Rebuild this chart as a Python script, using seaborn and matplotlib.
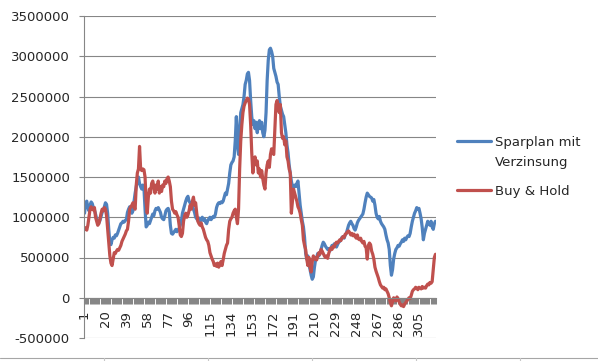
import numpy as np
import pandas as pd
import seaborn as sns
import matplotlib.pyplot as plt
from matplotlib.lines import Line2D
from matplotlib.ticker import MultipleLocator, FuncFormatter

# values in thousands, one per period (1..320)
sparplan = [
    1050, 1180, 1200, 1120, 1080, 1150, 1190, 1170, 1120, 1090,
    1040, 980, 950, 930, 960, 1010, 1060, 1090, 1130, 1180,
    1160, 1050, 850, 690, 660, 720, 750, 740, 780, 770,
    800, 840, 880, 920, 930, 950, 940, 960, 970, 1060,
    1100, 1130, 1120, 1050, 1080, 1200, 1300, 1380, 1450, 1500,
    1420, 1380, 1350, 1400, 1360, 1100, 880, 900, 940, 920,
    960, 1000, 1040, 1020, 1080, 1110, 1100, 1120, 1090, 1060,
    1000, 980, 970, 1020, 1080, 1100, 1110, 1070, 900, 800,
    790, 810, 830, 850, 820, 840, 860, 900, 950, 1050,
    1100, 1150, 1200, 1240, 1260, 1200, 1180, 1130, 1150, 1100,
    1060, 1000, 980, 960, 990, 950, 970, 1000, 960, 980,
    940, 920, 960, 980, 1000, 970, 990, 1010, 1000, 1040,
    1120, 1160, 1180, 1170, 1190, 1180, 1200, 1250, 1300, 1280,
    1350, 1420, 1550, 1650, 1680, 1700, 1750, 1950, 2250, 1900,
    1780, 2100, 2300, 2350, 2400, 2500, 2650, 2700, 2780, 2800,
    2700, 2450, 2250, 2150, 2200, 2100, 2180, 2050, 2150, 2200,
    2100, 2180, 2050, 2000, 2080, 2300, 2700, 2950, 3080, 3100,
    3060, 3000, 2850, 2800, 2750, 2680, 2650, 2500, 2380, 2330,
    2280, 2250, 2150, 2050, 1900, 1800, 1650, 1550, 1450, 1380,
    1370, 1400, 1380, 1420, 1450, 1300, 1150, 1050, 950, 880,
    750, 550, 480, 520, 420, 350, 280, 230, 260, 380,
    470, 500, 550, 520, 560, 600, 650, 690, 670, 640,
    620, 600, 610, 580, 620, 650, 640, 670, 650, 630,
    660, 690, 700, 720, 750, 760, 740, 780, 800, 850,
    900, 930, 950, 920, 900, 860, 840, 880, 930, 960,
    980, 1000, 1020, 1040, 1100, 1180, 1250, 1300, 1280, 1260,
    1250, 1240, 1200, 1220, 1150, 1050, 1000, 980, 1010, 950,
    920, 900, 880, 850, 780, 720, 680, 600, 400, 280,
    350, 480, 550, 600, 620, 650, 640, 670, 690, 720,
    700, 740, 720, 750, 770, 760, 800, 880, 950, 1000,
    1050, 1080, 1120, 1100, 1110, 1050, 980, 870, 720, 800,
    850, 900, 950, 920, 900, 950, 880, 850, 920, 950,
]

buy_hold = [
    850, 870, 840, 900, 1000, 1100, 1130, 1100, 1090, 1120,
    1000, 950, 900, 920, 980, 1050, 1100, 1080, 1120, 1100,
    1020, 850, 680, 520, 430, 400, 480, 560, 550, 580,
    600, 590, 620, 650, 700, 730, 760, 790, 830, 850,
    950, 1100, 1130, 1150, 1180, 1120, 1100, 1400, 1550, 1600,
    1880, 1600, 1580, 1600, 1590, 1500, 1200, 1050, 1250, 1350,
    1300, 1420, 1450, 1380, 1300, 1400, 1350, 1450, 1300, 1380,
    1320, 1400, 1380, 1450, 1420, 1480, 1500, 1450, 1380, 1200,
    1100, 1080, 1050, 1070, 1030, 1000, 900, 780, 760, 800,
    950, 1020, 1050, 1000, 1030, 1080, 1150, 1100, 1200, 1250,
    1150, 1180, 1050, 950, 920, 900, 930, 880, 850, 800,
    750, 720, 700, 650, 560, 520, 480, 450, 400, 420,
    390, 430, 380, 420, 450, 400, 470, 550, 600, 650,
    680, 850, 950, 980, 1000, 1050, 1080, 1100, 1000, 920,
    1100, 1600, 1950, 2150, 2300, 2380, 2420, 2450, 2480, 2470,
    2400, 2150, 1800, 1550, 1700, 1750, 1650, 1700, 1550, 1600,
    1500, 1580, 1480, 1400, 1350, 1550, 1650, 1700, 1620, 1780,
    1850, 1800, 1780, 2100, 2400, 2450, 2380, 2300, 2400, 2050,
    1980, 2000, 1900, 1950, 1750, 1700, 1600, 1550, 1050, 1200,
    1350, 1300, 1250, 1200, 1130, 1100, 1050, 970, 900, 720,
    650, 600, 480, 400, 500, 380, 320, 450, 520, 480,
    500, 470, 520, 560, 540, 600, 580, 550, 520, 500,
    520, 490, 550, 600, 620, 600, 640, 630, 670, 690,
    680, 700, 720, 710, 740, 760, 750, 790, 800, 820,
    830, 810, 780, 800, 770, 790, 760, 740, 780, 730,
    720, 740, 700, 680, 700, 640, 620, 480, 650, 680,
    660, 580, 540, 480, 380, 330, 290, 250, 200, 160,
    140, 120, 130, 100, 110, 80, 50, 0, -60, -100,
    -50, 0, -20, -40, 10, -10, -50, -80, -100, -90,
    -110, -80, -60, -40, -20, 0, -10, 30, 80, 100,
    110, 130, 120, 100, 130, 120, 110, 140, 120, 130,
    120, 150, 170, 160, 190, 180, 200, 350, 500, 540,
]

series_names = ['Sparplan mit\nVerzinsung', 'Buy & Hold']
colors = ['#4F81BD', '#C0504D']
n = len(sparplan)
periods = np.arange(1, n + 1)
tick_labels = list(range(1, n + 1, 19))

df = pd.DataFrame({'Periode': periods,
                   series_names[0]: np.array(sparplan) * 1000,
                   series_names[1]: np.array(buy_hold) * 1000})
long = df.melt(id_vars='Periode', var_name='Serie', value_name='Wert')

sns.set_style('white')
plt.rcParams['font.family'] = ['DejaVu Sans']
grey = '#868686'

fig = plt.figure(figsize=(5.98, 3.61), dpi=100)
ax = fig.add_axes([84 / 598, 23 / 361, 352 / 598, 322 / 361])

sns.lineplot(data=long, x='Periode', y='Wert', hue='Serie', hue_order=series_names,
             palette=colors, linewidth=2.3, ax=ax)

ax.set_xlim(0.5, n + 0.5)
ax.set_ylim(-500000, 3500000)
ax.yaxis.set_major_locator(MultipleLocator(500000))
ax.yaxis.set_major_formatter(FuncFormatter(lambda v, p: f'{int(round(v))}'))
ax.grid(axis='y', color=grey, linewidth=0.8)
ax.grid(axis='x', visible=False)
ax.set_xlabel('')
ax.set_ylabel('')

for s in ['top', 'right']:
    ax.spines[s].set_visible(False)
ax.spines['left'].set_color(grey)
ax.spines['left'].set_linewidth(0.8)
ax.spines['bottom'].set_position(('data', 0))
ax.spines['bottom'].set_color(grey)
ax.spines['bottom'].set_linewidth(0.8)

ax.set_xticks(tick_labels)
ax.set_xticklabels([str(t) for t in tick_labels], rotation=90, fontsize=9.5)
ax.set_xticks(np.arange(0.5, n + 1, 1), minor=True)
ax.tick_params(axis='x', which='both', bottom=True)
ax.tick_params(axis='x', which='major', length=0, pad=9)
ax.tick_params(axis='x', which='minor', length=4.5, width=0.75, color=grey)
ax.tick_params(axis='y', left=True, length=3.6, width=0.8, color=grey, pad=6.5, labelsize=9.5)

leg = ax.legend(loc='upper left', bbox_to_anchor=(457 / 598, 1 - 136 / 361),
                bbox_transform=fig.transFigure, frameon=False, fontsize=9.5,
                handlelength=2.6, handletextpad=0.3, labelspacing=1.2,
                borderaxespad=0, borderpad=0)
for t in leg.get_texts():
    t.set_linespacing(1.7)
# put the blue key line next to the first text row, as in the original
h = leg.legend_handles[0]
h.set_ydata(np.asarray(h.get_ydata()) + 8.5)

# sheet border under the chart
yb = 1 - 358 / 361
fig.add_artist(Line2D([0, 1], [yb, yb], color='#a6a6a6', linewidth=0.8))
for xp in [104, 208, 312, 416, 520]:
    fig.add_artist(Line2D([xp / 598, xp / 598], [0, yb], color='#c8c8c8', linewidth=0.8))

fig.savefig('out.png', dpi=100)
